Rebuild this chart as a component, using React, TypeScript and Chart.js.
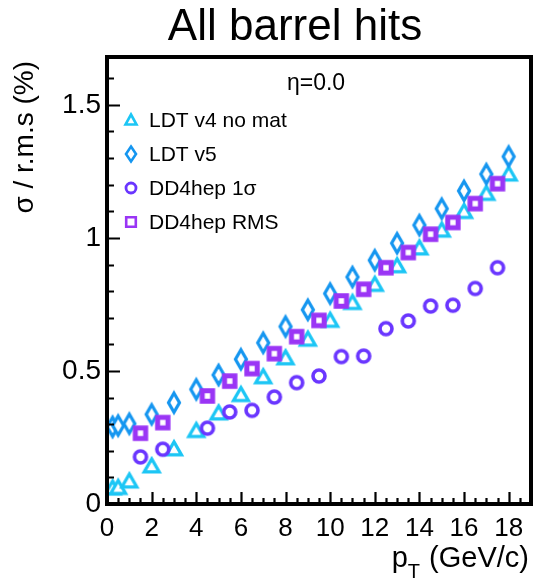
import React, { useEffect, useRef } from 'react';
import { Chart, registerables } from 'chart.js';

Chart.register(...registerables);

const FONT = '"Liberation Sans", Arial, Helvetica, sans-serif';

const titleText = 'All barrel hits';
const etaText = 'η=0.0';
const yTitleText = 'σ / r.m.s (%)';
const xTitleMain = 'p';
const xTitleSub = 'T';
const xTitleRest = ' (GeV/c)';

// LDT series sample points (pT in GeV/c)
const ldtX = [0.25, 0.5, 1, 2, 3, 4, 5, 6, 7, 8, 9, 10, 11, 12, 13, 14, 15, 16, 17, 18];
const ldtV4Y = [0.06, 0.062, 0.086, 0.143, 0.207, 0.276, 0.342, 0.411, 0.478, 0.549, 0.619, 0.69, 0.757, 0.825, 0.895, 0.962, 1.029, 1.099, 1.167, 1.24];
const ldtV5Y = [0.29, 0.295, 0.302, 0.337, 0.381, 0.431, 0.485, 0.544, 0.606, 0.667, 0.73, 0.791, 0.853, 0.916, 0.98, 1.048, 1.11, 1.177, 1.24, 1.306];

// DD4hep series sample points
const ddX = [1.5, 2.5, 4.5, 5.5, 6.5, 7.5, 8.5, 9.5, 10.5, 11.5, 12.5, 13.5, 14.5, 15.5, 16.5, 17.5];
const dd1SigmaY = [0.177, 0.206, 0.285, 0.346, 0.352, 0.402, 0.456, 0.481, 0.554, 0.556, 0.659, 0.688, 0.744, 0.747, 0.81, 0.888];
const ddRmsY = [0.266, 0.306, 0.406, 0.462, 0.509, 0.565, 0.629, 0.69, 0.763, 0.807, 0.888, 0.945, 1.014, 1.058, 1.129, 1.204];

const seriesNames = ['LDT v4 no mat', 'LDT v5', 'DD4hep 1σ', 'DD4hep RMS'];
const seriesColors = ['#1cc6f5', '#1596f0', '#6a36ff', '#9a35f5'];
const seriesMarkers = ['triangle', 'diamond', 'circle', 'square'];

const xMin = 0;
const xMax = 19;
const yMin = 0;
const yMax = 1.68;
const xMajorStep = 2;
const xMinorStep = 0.5;
const yMajorStep = 0.5;
const yMinorStep = 0.1;

type MarkerSize = { tw: number; th: number; dw: number; dh: number; cr: number; sq: number; lw: number; sqlw: number; clw: number };

const plotSize: MarkerSize = { tw: 7.5, th: 13, dw: 5.5, dh: 9.5, cr: 6, sq: 5.2, lw: 3.2, sqlw: 5, clw: 3.6 };
const legendSize: MarkerSize = { tw: 5.5, th: 10, dw: 5, dh: 7.5, cr: 5, sq: 4.8, lw: 2.6, sqlw: 2.6, clw: 2.8 };

function drawMarker(ctx: CanvasRenderingContext2D, kind: string, x: number, y: number, color: string, s: MarkerSize) {
  ctx.save();
  ctx.strokeStyle = color;
  ctx.fillStyle = '#ffffff';
  ctx.lineJoin = 'miter';
  ctx.lineWidth = s.lw;
  ctx.beginPath();
  if (kind === 'triangle') {
    ctx.moveTo(x, y - s.th * 0.55);
    ctx.lineTo(x + s.tw, y + s.th * 0.45);
    ctx.lineTo(x - s.tw, y + s.th * 0.45);
    ctx.closePath();
  } else if (kind === 'diamond') {
    ctx.moveTo(x, y - s.dh);
    ctx.lineTo(x + s.dw, y);
    ctx.lineTo(x, y + s.dh);
    ctx.lineTo(x - s.dw, y);
    ctx.closePath();
  } else if (kind === 'circle') {
    ctx.lineWidth = s.clw;
    ctx.arc(x, y, s.cr, 0, Math.PI * 2);
  } else {
    ctx.lineWidth = s.sqlw;
    ctx.rect(x - s.sq, y - s.sq, s.sq * 2, s.sq * 2);
  }
  ctx.fill();
  ctx.stroke();
  ctx.restore();
}

function makeMarkerCanvas(kind: string, color: string): HTMLCanvasElement {
  const c = document.createElement('canvas');
  c.width = 30;
  c.height = 30;
  const ctx = c.getContext('2d')!;
  drawMarker(ctx, kind, 15, 15, color, plotSize);
  return c;
}

const decorPlugin = {
  id: 'rootDecor',
  beforeDraw(chart: any) {
    const ctx = chart.ctx;
    ctx.save();
    ctx.fillStyle = '#ffffff';
    ctx.fillRect(0, 0, chart.width, chart.height);
    ctx.restore();
  },
  afterDraw(chart: any) {
    const ctx: CanvasRenderingContext2D = chart.ctx;
    const a = chart.chartArea;
    const xs = chart.scales.x;
    const ys = chart.scales.y;
    ctx.save();
    // ticks (inward)
    ctx.strokeStyle = '#000';
    ctx.lineWidth = 2.2;
    ctx.beginPath();
    for (let v = yMin; v <= yMax + 1e-9; v += yMinorStep) {
      const py = Math.round(ys.getPixelForValue(v)) + 0.5;
      const major = Math.abs(v / yMajorStep - Math.round(v / yMajorStep)) < 1e-6;
      ctx.moveTo(a.left, py);
      ctx.lineTo(a.left + (major ? 13 : 7), py);
    }
    for (let v = xMin; v <= xMax + 1e-9; v += xMinorStep) {
      const px = Math.round(xs.getPixelForValue(v)) + 0.5;
      const major = Math.abs(v / xMajorStep - Math.round(v / xMajorStep)) < 1e-6;
      ctx.moveTo(px, a.bottom);
      ctx.lineTo(px, a.bottom - (major ? 12 : 6));
    }
    ctx.stroke();
    // frame
    ctx.lineWidth = 4;
    ctx.strokeRect(a.left, a.top, a.right - a.left, a.bottom - a.top);

    ctx.fillStyle = '#000';
    // title
    ctx.font = `44px ${FONT}`;
    ctx.textAlign = 'center';
    ctx.textBaseline = 'alphabetic';
    ctx.fillText(titleText, 295, 40);

    // eta label
    ctx.font = `23px ${FONT}`;
    ctx.fillText(etaText, 316, 90);

    // y title
    ctx.save();
    ctx.translate(33, 61);
    ctx.rotate(-Math.PI / 2);
    ctx.font = `28px ${FONT}`;
    ctx.textAlign = 'right';
    ctx.fillText(yTitleText, 0, 0);
    ctx.restore();

    // x title
    ctx.textAlign = 'left';
    ctx.font = `29px ${FONT}`;
    const wRest = ctx.measureText(xTitleRest).width;
    const wP = ctx.measureText(xTitleMain).width;
    ctx.font = `20px ${FONT}`;
    const wT = ctx.measureText(xTitleSub).width;
    const right = 529;
    const restX = right - wRest;
    const tX = restX - wT - 1;
    const pX = tX - wP;
    ctx.font = `29px ${FONT}`;
    ctx.fillText(xTitleRest, restX, 567);
    ctx.fillText(xTitleMain, pX, 567);
    ctx.font = `20px ${FONT}`;
    ctx.fillText(xTitleSub, tX, 578);

    // legend
    const legX = 131;
    const legTextX = 149;
    const legY0 = 120;
    const legDY = 34;
    chart.data.datasets.forEach((ds: any, i: number) => {
      const cy = legY0 + legDY * i;
      drawMarker(ctx, seriesMarkers[i], legX, cy, seriesColors[i], legendSize);
      ctx.fillStyle = '#000';
      ctx.font = `21px ${FONT}`;
      ctx.textAlign = 'left';
      ctx.textBaseline = 'alphabetic';
      ctx.fillText(ds.label, legTextX, cy + 7);
    });
    ctx.restore();
  },
};

export default function App() {
  const ref = useRef<HTMLCanvasElement | null>(null);
  useEffect(() => {
    if (!ref.current) return;
    const xsArr = [ldtX, ldtX, ddX, ddX];
    const ysArr = [ldtV4Y, ldtV5Y, dd1SigmaY, ddRmsY];
    const datasets = seriesNames.map((name, i) => ({
      label: name,
      data: xsArr[i].map((x, k) => ({ x, y: ysArr[i][k] })),
      pointStyle: makeMarkerCanvas(seriesMarkers[i], seriesColors[i]),
      borderColor: seriesColors[i],
      backgroundColor: seriesColors[i],
      showLine: false,
      order: 4 - i,
    }));
    const chart = new Chart(ref.current, {
      type: 'scatter',
      data: { datasets },
      options: {
        animation: false,
        responsive: false,
        devicePixelRatio: 1,
        layout: { padding: { top: 57, right: 4, left: 0, bottom: 0 } },
        plugins: { legend: { display: false }, tooltip: { enabled: false }, title: { display: false } },
        scales: {
          x: {
            type: 'linear',
            min: xMin,
            max: xMax,
            grid: { display: false, drawTicks: false },
            border: { display: false },
            afterFit: (s: any) => { s.height = 77; },
            ticks: {
              stepSize: xMajorStep,
              includeBounds: false,
              autoSkip: false,
              maxRotation: 0,
              padding: 9,
              color: '#000',
              font: { family: FONT, size: 26 },
              callback: (v: any) => String(v),
            },
          },
          y: {
            type: 'linear',
            min: yMin,
            max: yMax,
            grid: { display: false, drawTicks: false },
            border: { display: false },
            afterFit: (s: any) => { s.width = 107; },
            ticks: {
              stepSize: yMajorStep,
              includeBounds: false,
              padding: 6,
              color: '#000',
              font: { family: FONT, size: 28 },
              callback: (v: any) => String(v),
            },
          },
        },
      },
      plugins: [decorPlugin],
    } as any);
    return () => chart.destroy();
  }, []);
  return (
    <div style={{ position: 'fixed', left: 0, top: 0, width: 536, height: 581, background: '#fff' }}>
      <canvas ref={ref} width={536} height={581} style={{ width: 536, height: 581, display: 'block' }} />
    </div>
  );
}
